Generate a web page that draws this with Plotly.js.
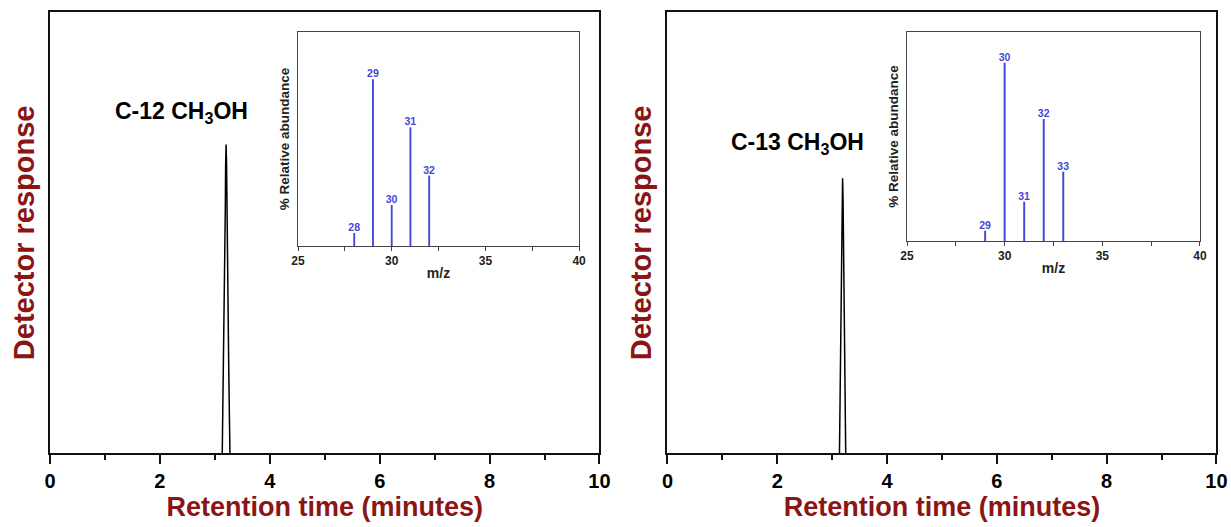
<!DOCTYPE html>
<html>
<head>
<meta charset="utf-8">
<script src="https://cdn.plot.ly/plotly-3.0.1.min.js"></script>
<style>html,body{margin:0;padding:0;background:#fff;}#chart{width:1231px;height:527px;}</style>
</head>
<body>
<div id="chart"></div>
<script>
// Chromatogram peaks (retention time in minutes, detector response in % of axis height)
const peak12Time = [3.135, 3.150, 3.162, 3.175, 3.184, 3.190, 3.196, 3.205, 3.214, 3.220, 3.226, 3.235, 3.248, 3.260, 3.275];
const peak12Resp = [0, 13, 25, 35, 45, 55, 65, 70, 65, 55, 45, 35, 25, 13, 0];
const peak13Time = [3.133, 3.145, 3.151, 3.163, 3.169, 3.175, 3.181, 3.190, 3.199, 3.205, 3.211, 3.217, 3.229, 3.235, 3.247];
const peak13Resp = [0, 13.6, 22, 31, 40, 49, 57.4, 62.4, 57.4, 49, 40, 31, 22, 13.6, 0];

// Mass spectra (m/z, % relative abundance)
const ms12Mz = [28, 29, 30, 31, 32];
const ms12Abund = [7.8, 100, 24.6, 71.2, 42.2];
const ms13Mz = [29, 30, 31, 32, 33];
const ms13Abund = [5.8, 100, 22.0, 68.4, 38.9];

const label12 = 'C-12 CH<sub>3</sub>OH';
const label13 = 'C-13 CH<sub>3</sub>OH';
const xTitle = 'Retention time (minutes)';
const yTitle = 'Detector response';
const msXTitle = 'm/z';
const msYTitle = '% Relative abundance';

const FONT = 'Liberation Sans, Arial, sans-serif';
const RED = '#8b1515';
const BLUE = '#4646d8';

const traces = [
  {x: peak12Time, y: peak12Resp, type: 'scatter', mode: 'lines', line: {color: '#000', width: 1.5}, xaxis: 'x', yaxis: 'y', hoverinfo: 'skip'},
  {x: peak13Time, y: peak13Resp, type: 'scatter', mode: 'lines', line: {color: '#000', width: 1.5}, xaxis: 'x2', yaxis: 'y2', hoverinfo: 'skip'},
  {x: ms12Mz, y: ms12Abund, type: 'bar', width: 0.1, marker: {color: BLUE}, text: ms12Mz.map(String), textposition: 'outside', constraintext: 'none', cliponaxis: false, textfont: {size: 10.5, color: BLUE, family: FONT, weight: 'bold'}, xaxis: 'x3', yaxis: 'y3'},
  {x: ms13Mz, y: ms13Abund, type: 'bar', width: 0.1, marker: {color: BLUE}, text: ms13Mz.map(String), textposition: 'outside', constraintext: 'none', cliponaxis: false, textfont: {size: 10.5, color: BLUE, family: FONT, weight: 'bold'}, xaxis: 'x4', yaxis: 'y4'}
];

function mainX(domain) {
  return {
    domain: domain, range: [0, 10], showline: true, linewidth: 2, linecolor: '#111', mirror: true,
    ticks: 'outside', ticklen: 9, tickwidth: 2, tickcolor: '#111', dtick: 2, tick0: 0,
    minor: {dtick: 1, ticks: 'outside', ticklen: 5, tickwidth: 2, tickcolor: '#111'},
    showgrid: false, zeroline: false, automargin: false,
    tickfont: {family: FONT, size: 20, color: '#000', weight: 'bold'},
    title: {text: xTitle, font: {family: FONT, size: 27, color: RED, weight: 'bold'}, standoff: 6}
  };
}
function mainY(anchor) {
  return {
    domain: [0.1395, 0.9767], range: [0, 100], showline: true, linewidth: 2, linecolor: '#111', mirror: true,
    ticks: '', showticklabels: false, showgrid: false, zeroline: false, automargin: false, anchor: anchor,
    title: {text: yTitle, font: {family: FONT, size: 29, color: RED, weight: 'bold'}, standoff: 5}
  };
}
function msX(domain, anchor) {
  return {
    domain: domain, range: [25, 40], anchor: anchor, showline: true, linewidth: 1, linecolor: '#444', mirror: true,
    ticks: 'outside', ticklen: 4, tickwidth: 1, tickcolor: '#444', dtick: 5, tick0: 25,
    minor: {dtick: 2.5, ticks: 'outside', ticklen: 4, tickwidth: 1, tickcolor: '#444'},
    showgrid: false, zeroline: false, automargin: false,
    tickfont: {family: FONT, size: 12, color: '#222', weight: 'bold'},
    title: {text: msXTitle, font: {family: FONT, size: 14, color: '#222', weight: 'bold'}, standoff: 0}
  };
}
function msY(domain, anchor, top) {
  return {
    domain: domain, range: [0, top], anchor: anchor, showline: true, linewidth: 1, linecolor: '#444', mirror: true,
    ticks: '', showticklabels: false, showgrid: false, zeroline: false, automargin: false,
    title: {text: msYTitle, font: {family: FONT, size: 13.5, color: '#222', weight: 'bold'}, standoff: 4}
  };
}

const layout = {
  width: 1231, height: 527, margin: {l: 0, r: 0, t: 0, b: 0},
  paper_bgcolor: '#fff', plot_bgcolor: '#fff', showlegend: false,
  font: {family: FONT},
  xaxis: Object.assign(mainX([0.0406, 0.4870]), {anchor: 'y'}),
  yaxis: mainY('x'),
  xaxis2: Object.assign(mainX([0.5422, 0.9882]), {anchor: 'y2'}),
  yaxis2: mainY('x2'),
  xaxis3: msX([0.2421, 0.4704], 'y3'),
  yaxis3: msY([0.5332, 0.9393], 'x3', 128.4),
  xaxis4: msX([0.7368, 0.9748], 'y4'),
  yaxis4: msY([0.5427, 0.9393], 'x4', 117.2),
  annotations: [
    {text: label12, x: 2.40, y: 77.2, xref: 'x', yref: 'y', showarrow: false, font: {family: FONT, size: 23, color: '#000', weight: 'bold'}},
    {text: label13, x: 2.36, y: 70.2, xref: 'x2', yref: 'y2', showarrow: false, font: {family: FONT, size: 23, color: '#000', weight: 'bold'}}
  ]
};

Plotly.newPlot('chart', traces, layout, {staticPlot: true, displayModeBar: false});
</script>
</body>
</html>
